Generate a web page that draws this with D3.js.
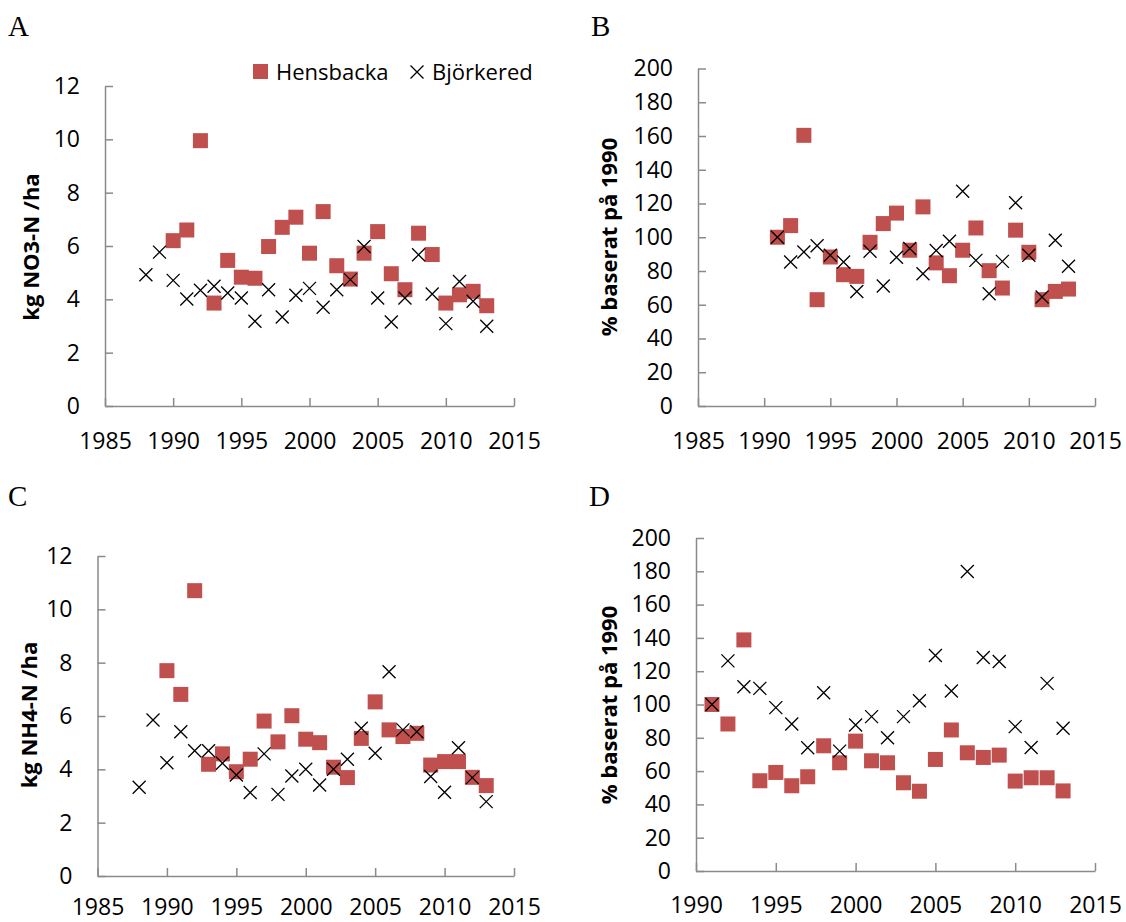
<!DOCTYPE html>
<html>
<head>
<meta charset="utf-8">
<script src="https://cdn.jsdelivr.net/npm/d3@7"></script>
<style>
  body { margin: 0; background: #fff; }
  svg text { font-family: "Open Sans", sans-serif; }
</style>
</head>
<body>
<svg id="chart" width="1126" height="922"></svg>
<script>
// years on the x axis for each series
const years1988 = [1988, 1989, 1990, 1991, 1992, 1993, 1994, 1995, 1996, 1997, 1998, 1999, 2000,
                   2001, 2002, 2003, 2004, 2005, 2006, 2007, 2008, 2009, 2010, 2011, 2012, 2013];
const years1990 = [1990, 1991, 1992, 1993, 1994, 1995, 1996, 1997, 1998, 1999, 2000, 2001,
                   2002, 2003, 2004, 2005, 2006, 2007, 2008, 2009, 2010, 2011, 2012, 2013];
const years1991 = [1991, 1992, 1993, 1994, 1995, 1996, 1997, 1998, 1999, 2000, 2001, 2002,
                   2003, 2004, 2005, 2006, 2007, 2008, 2009, 2010, 2011, 2012, 2013];

// A: kg NO3-N /ha
const hensNO3 = [6.2, 6.6, 9.95, 3.86, 5.46, 4.83, 4.79, 5.98, 6.7, 7.08, 5.73, 7.29,
                 5.26, 4.76, 5.73, 6.54, 4.96, 4.36, 6.48, 5.68, 3.86, 4.17, 4.3, 3.76];
const bjorkNO3 = [4.92, 5.77, 4.71, 4.01, 4.34, 4.49, 4.24, 4.05, 3.18, 4.36, 3.34, 4.15, 4.41,
                  3.7, 4.36, 4.74, 5.98, 4.05, 3.15, 4.05, 5.67, 4.2, 3.09, 4.67, 3.93, 2.99];
// B: % baserat på 1990 (NO3)
const hensNO3pct = [100, 106.9, 160.4, 63, 88.3, 77.8, 76.8, 97, 108.1, 114.3, 92.3, 118,
                    84.8, 77.2, 92.3, 105.5, 80.2, 69.9, 104.2, 91.1, 63, 67.9, 69.3];
const bjorkNO3pct = [100, 85.3, 91.3, 95, 89.3, 85.3, 67.9, 91.7, 71.1, 88.1, 93.3, 78.4,
                     92.1, 97.6, 127.3, 86.3, 66.5, 85.7, 120.4, 89.3, 64.6, 98.2, 82.8];
// C: kg NH4-N /ha
const hensNH4 = [7.7, 6.81, 10.7, 4.19, 4.58, 3.91, 4.38, 5.81, 5.03, 6.01, 5.13, 5.0,
                 4.08, 3.69, 5.16, 6.53, 5.48, 5.23, 5.35, 4.16, 4.29, 4.29, 3.7, 3.39];
const bjorkNH4 = [3.33, 5.85, 4.25, 5.41, 4.7, 4.7, 4.23, 3.79, 3.13, 4.58, 3.06, 3.75, 4.0,
                  3.41, 4.0, 4.38, 5.54, 4.6, 7.66, 5.48, 5.41, 3.73, 3.14, 4.81, 3.69, 2.79];
// D: % baserat på 1990 (NH4)
const hensNH4pct = [100, 88.3, 138.8, 54.2, 59.2, 51.2, 56.6, 75.2, 65, 78, 66.2, 65,
                    53, 47.9, 67, 84.7, 71, 68.2, 69.6, 54, 56, 56, 48.1];
const bjorkNH4pct = [100, 126.2, 110.7, 109.7, 98.1, 88.3, 74, 107.1, 72, 87.7, 92.7, 80,
                     92.7, 102.3, 129.4, 108.1, 179.9, 128.2, 125.8, 86.7, 74.2, 112.7, 85.7];

const seriesNames = ["Hensbacka", "Björkered"];
const kgTicks = [0, 2, 4, 6, 8, 10, 12];
const pctTicks = [0, 20, 40, 60, 80, 100, 120, 140, 160, 180, 200];
const yearTicksFull = [1985, 1990, 1995, 2000, 2005, 2010, 2015];
const yearTicksShort = [1990, 1995, 2000, 2005, 2010, 2015];

const red = "#c0504d";
const axisColor = "#8a8a8a";
const svg = d3.select("#chart");

function zip(xs, ys) {
    return xs.map((x, i) => ({year: x, value: ys[i]}));
}

const panels = [
    {letter: "A", lx: 8, ly: 36, x0: 105, x1: 514, yTop: 86, yBot: 406, xPad: 27,
     xTicks: yearTicksFull, yTicks: kgTicks, title: "kg NO3-N /ha", tx: 31, ty: 247,
     hens: zip(years1990, hensNO3), bjork: zip(years1988, bjorkNO3)},
    {letter: "B", lx: 591, ly: 36, x0: 698, x1: 1095, yTop: 68.5, yBot: 406, xPad: 27,
     xTicks: yearTicksFull, yTicks: pctTicks, title: "% baserat på 1990", tx: 609, ty: 237,
     hens: zip(years1991, hensNO3pct), bjork: zip(years1991, bjorkNO3pct)},
    {letter: "C", lx: 8, ly: 506, x0: 97.5, x1: 514, yTop: 556, yBot: 876, xPad: 23,
     xTicks: yearTicksFull, yTicks: kgTicks, title: "kg NH4-N /ha", tx: 29, ty: 715,
     hens: zip(years1990, hensNH4), bjork: zip(years1988, bjorkNH4)},
    {letter: "D", lx: 589, ly: 506, x0: 696, x1: 1095, yTop: 538, yBot: 871, xPad: 26,
     xTicks: yearTicksShort, yTicks: pctTicks, title: "% baserat på 1990", tx: 609, ty: 705,
     hens: zip(years1991, hensNH4pct), bjork: zip(years1991, bjorkNH4pct)}
];

const sq = 15, cr = 6.5;
const crossPath = `M${-cr},${-cr}L${cr},${cr}M${-cr},${cr}L${cr},${-cr}`;

panels.forEach(function(p) {
    let x = d3.scaleLinear()
        .domain(d3.extent(p.xTicks))
        .range([p.x0, p.x1]);
    let y = d3.scaleLinear()
        .domain(d3.extent(p.yTicks))
        .range([p.yBot, p.yTop]);

    svg.append("text")
        .attr("x", p.lx)
        .attr("y", p.ly)
        .style("font-family", "'Liberation Serif', serif")
        .attr("font-size", "29px")
        .text(p.letter);

    let yAxis = svg.append("g")
        .attr("transform", `translate(${p.x0},0)`)
        .call(d3.axisLeft(y).tickValues(p.yTicks).tickSizeInner(-8).tickSizeOuter(0).tickPadding(25));
    let xAxis = svg.append("g")
        .attr("transform", `translate(0,${p.yBot})`)
        .call(d3.axisBottom(x).tickValues(p.xTicks).tickFormat(d3.format("d"))
            .tickSizeInner(-8).tickSizeOuter(0).tickPadding(p.xPad));

    [yAxis, xAxis].forEach(function(g) {
        g.selectAll("path, line").attr("stroke", axisColor).attr("stroke-width", 1.5);
        g.selectAll("text").attr("font-size", "23px").attr("fill", "#000")
            .style("font-family", "'Open Sans', sans-serif");
    });

    svg.append("text")
        .attr("transform", `translate(${p.tx},${p.ty}) rotate(-90)`)
        .attr("text-anchor", "middle")
        .attr("dy", "0.35em")
        .attr("font-size", "22px")
        .attr("font-weight", "bold")
        .text(p.title);

    svg.append("g").selectAll("rect")
        .data(p.hens)
        .enter()
        .append("rect")
        .attr("x", d => x(d.year) - sq / 2)
        .attr("y", d => y(d.value) - sq / 2)
        .attr("width", sq)
        .attr("height", sq)
        .attr("fill", red);

    svg.append("g").selectAll("path")
        .data(p.bjork)
        .enter()
        .append("path")
        .attr("transform", d => `translate(${x(d.year)},${y(d.value)})`)
        .attr("d", crossPath)
        .attr("stroke", "#000")
        .attr("stroke-width", 1.3)
        .attr("fill", "none");
});

// legend in panel A
const legend = svg.append("g").attr("transform", "translate(253,64)");
legend.append("rect").attr("width", sq).attr("height", sq).attr("fill", red);
legend.append("text").attr("x", 23).attr("y", 16).attr("font-size", "22px").text(seriesNames[0]);
legend.append("path")
    .attr("transform", "translate(164,8)")
    .attr("d", crossPath)
    .attr("stroke", "#000").attr("stroke-width", 1.3).attr("fill", "none");
legend.append("text").attr("x", 179).attr("y", 16).attr("font-size", "22px").text(seriesNames[1]);
</script>
</body>
</html>
